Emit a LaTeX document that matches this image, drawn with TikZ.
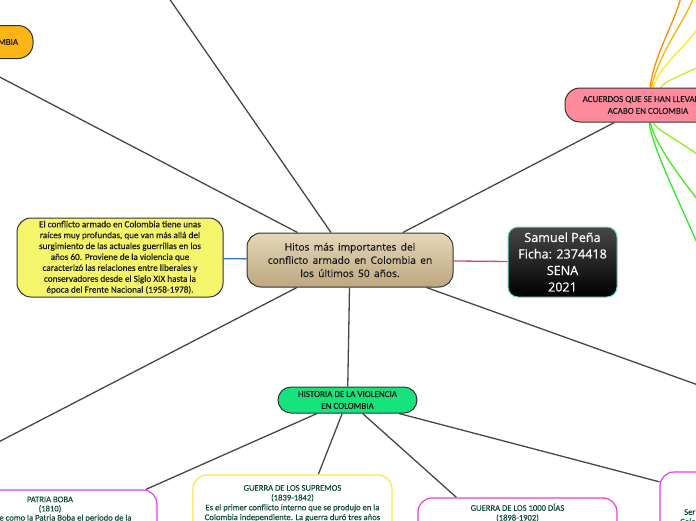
\documentclass[tikz,border=0pt]{standalone}
\usepackage{fontspec}
\setmainfont{Carlito}[FakeBold=0.35]
\newfontfamily\opensans{Open Sans}[FakeBold=0.3]
\usetikzlibrary{positioning, backgrounds}
\definecolor{corange}{HTML}{FDB515}
\definecolor{cbeigea}{HTML}{E4D7B8}
\definecolor{cbeigeb}{HTML}{BDA77F}
\definecolor{camarillo}{HTML}{F5F56C}
\definecolor{cturquesa}{HTML}{6AD8C8}
\definecolor{crosa}{HTML}{FF8A9C}
\definecolor{cverde}{HTML}{16E37B}
\definecolor{ctexto}{HTML}{124D36}
\definecolor{cmagenta}{HTML}{DF3CF2}
\definecolor{cfucsia}{HTML}{F23CC9}
\definecolor{cborde}{HTML}{FFE445}
\definecolor{cazul}{HTML}{3B78E0}
\definecolor{crojo}{HTML}{D8456B}
\definecolor{hoja1}{HTML}{FF8A00}
\definecolor{hoja2}{HTML}{FFB300}
\definecolor{hoja3}{HTML}{FFEA1A}
\definecolor{hoja4}{HTML}{C4EE2A}
\definecolor{hoja5}{HTML}{8CF01E}
\definecolor{hoja6}{HTML}{4CEB1A}
\definecolor{hoja7}{HTML}{2EE82E}
\newcommand\letracentral{\opensans\fontsize{10.2}{13.2}\selectfont
  \spaceskip 0.42em plus 0.1em\relax}
\tikzset{
  % nodo generico del mapa
  tema/.style={draw=black!80, line width=1pt, align=center, inner sep=2pt,
    text=black!90},
  % nodo central
  central/.style={tema, rounded corners=14pt, top color=cbeigea, bottom color=cbeigeb,
    font=\letracentral},
  % ramas de primer nivel
  pildora/.style={tema, rounded corners=15pt, font=\fontsize{9}{11.8}\selectfont},
  nota/.style={tema, rounded corners=14pt, fill=camarillo,
    font=\fontsize{9.2}{10.9}\selectfont},
  autor/.style={draw=cturquesa, line width=1pt, rounded corners=10pt, align=center,
    top color=black!72, bottom color=black, text=white,
    font=\opensans\fontsize{12.6}{16.5}\selectfont},
  % cajas de la historia
  hito/.style={draw, line width=1.2pt, rounded corners=14pt, fill=white},
  titulo/.style={font=\fontsize{8.6}{9.8}\selectfont, text=ctexto, align=center,
    inner sep=0pt},
  % conectores
  rama/.style={line width=1.3pt, black!72},
  hoja/.style={line width=1.3pt},
}
\begin{document}
\begin{tikzpicture}[x=1pt, y=-1pt]
  \useasboundingbox (0,0) rectangle (696,520);
  % nodos principales
  \node[central, minimum width=206pt, minimum height=54pt] (centro) at (350,260)
    {Hitos más importantes del\\conflicto armado en Colombia en\\los últimos 50 años.};
  \node[nota, minimum width=206pt, minimum height=79pt] (nota) at (120,257.5)
    {El conflicto armado en Colombia tiene unas\\raíces muy profundas, que van más allá del\\surgimiento de las actuales guerrillas en los\\años 60. Proviene de la violencia que\\caracterizó las relaciones entre liberales y\\conservadores desde el Siglo XIX hasta la\\época del Frente Nacional (1958-1978).};
  \node[autor, minimum width=109pt, minimum height=70pt] (autor) at (562.5,262)
    {Samuel Peña\\Ficha: 2374418\\SENA\\2021};
  \node[pildora, fill=corange, minimum width=70pt, minimum height=33pt] (naranja) at (-2,42)
    {COLOMBIA};
  \node[pildora, fill=crosa, minimum width=166pt, minimum height=34pt] (rosa) at (648,105)
    {ACUERDOS QUE SE HAN LLEVADO A\\ACABO EN COLOMBIA};
  \node[pildora, fill=cverde, rounded corners=13pt, minimum width=139pt, minimum height=26pt]
    (historia) at (347.5,400) {HISTORIA DE LA VIOLENCIA\\EN COLOMBIA};

  % cajas de la historia
  \node[hito, draw=cmagenta, minimum width=214pt, minimum height=84pt] (patria) at (50,532) {};
  \node[hito, draw=cborde, minimum width=199pt, minimum height=130pt] (supremos) at (292.5,540) {};
  \node[hito, draw=cfucsia, minimum width=199pt, minimum height=108pt] (mildias) at (517.5,552) {};
  \node[hito, draw=cmagenta, minimum width=200pt, minimum height=72pt] (frente) at (760,508) {};
  \node[titulo, below=7pt of patria.north, font=\fontsize{8.6}{9.2}\selectfont] (tpatria)
    {PATRIA BOBA\\(1810)\\Se conoce como la Patria Boba el periodo de la};
  \node[titulo, below=10.5pt of supremos.north] (tsupremos)
    {GUERRA DE LOS SUPREMOS\\(1839-1842)\\Es el primer conflicto interno que se produjo en la\\Colombia independiente. La guerra duró tres años};
  \node[titulo, below=6pt of mildias.north] (tmildias) {GUERRA DE LOS 1000 DÍAS\\(1898-1902)};
  \node[titulo, anchor=west] (tfrente1) at (684,512) {Ser};
  \node[titulo, anchor=west] (tfrente2) at (680,521.5) {Colom};

  % extremos fuera del cuadro
  \coordinate (nw) at (-100,25);
  \coordinate (n) at (155,-22);
  \coordinate (sw) at (-100,493);
  \coordinate (se) at (790,418);
  \coordinate (h1) at (681,-3);
  \coordinate (h2) at (694,-3);
  \coordinate (h3) at (698,28);
  \coordinate (h4) at (698,67);
  \coordinate (h5) at (698,155);
  \coordinate (h6) at (698,200);
  \coordinate (h7) at (698,245);

  \begin{scope}[on background layer]
    \draw[rama] (centro) -- (nw);
    \draw[rama] (centro) -- (n);
    \draw[rama] (centro) -- (rosa);
    \draw[rama] (centro) -- (sw);
    \draw[rama] (centro) -- (se);
    \draw[rama] (centro) -- (historia);
    \draw[rama, cazul] (nota) -- (centro);
    \draw[rama, crojo] (centro) -- (autor);
    \draw[rama] (historia) -- (patria);
    \draw[rama] (historia) -- (supremos);
    \draw[rama] (historia) -- (mildias);
    \draw[rama] (historia) -- (frente);
    % abanico de acuerdos
    \draw[hoja, hoja1] (rosa) .. controls +(6,-50) and +(-6,25) .. (h1);
    \draw[hoja, hoja2] (rosa) .. controls +(10,-50) and +(-10,25) .. (h2);
    \draw[hoja, hoja3] (rosa) .. controls +(12,-40) and +(-15,22) .. (h3);
    \draw[hoja, hoja4] (rosa) .. controls +(18,-25) and +(-15,8) .. (h4);
    \draw[hoja, hoja5] (rosa) .. controls +(8,25) and +(-20,-15) .. (h5);
    \draw[hoja, hoja6] (rosa) .. controls +(5,35) and +(-20,-25) .. (h6);
    \draw[hoja, hoja7] (rosa) .. controls +(3,40) and +(-15,-35) .. (h7);
  \end{scope}
\end{tikzpicture}
\end{document}
